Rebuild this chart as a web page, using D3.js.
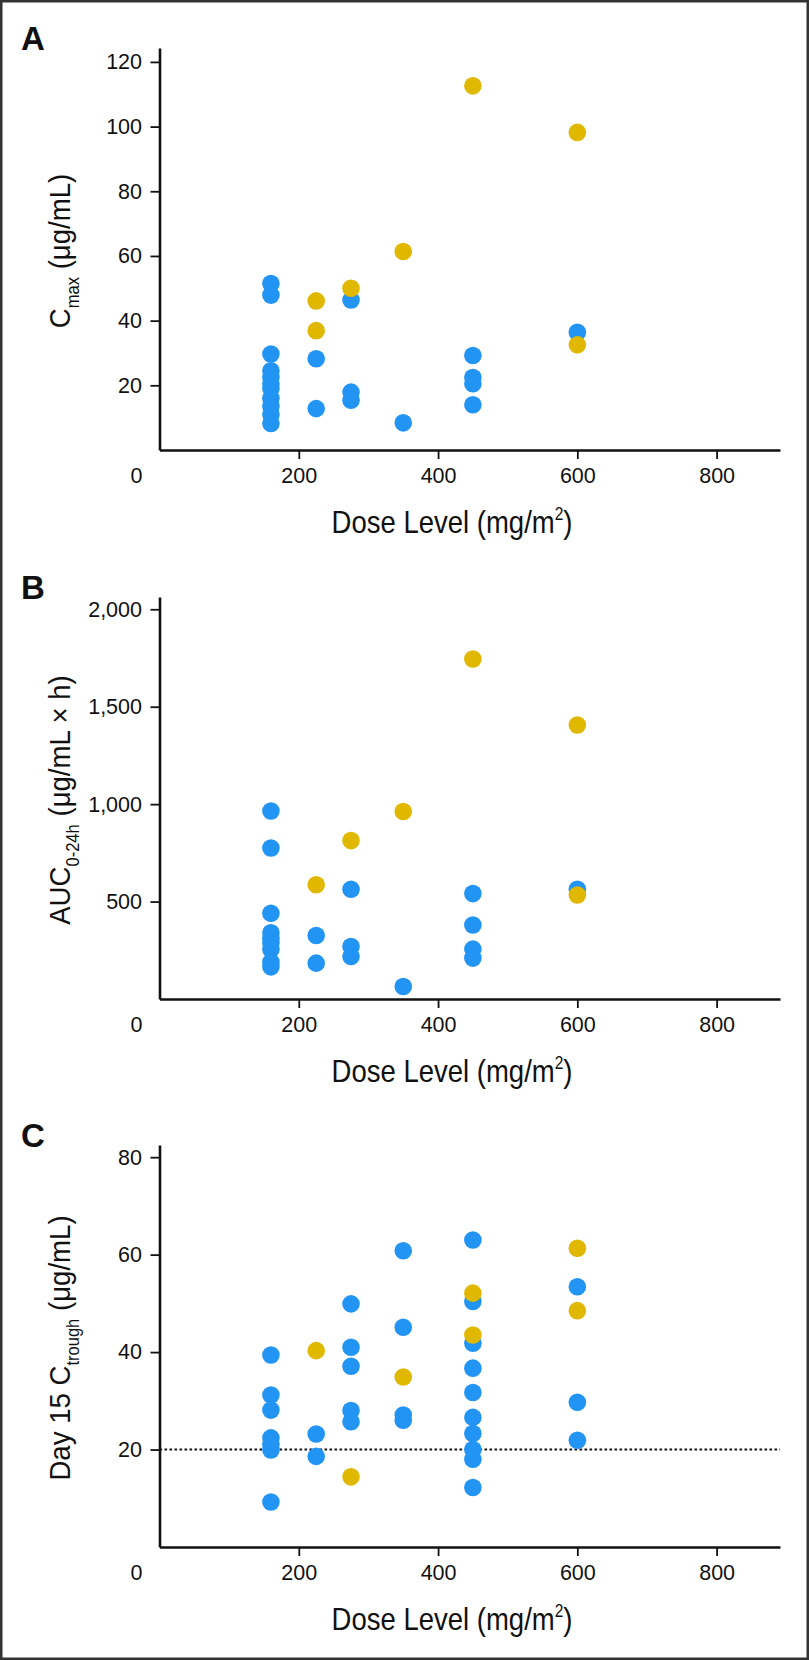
<!DOCTYPE html>
<html>
<head>
<meta charset="utf-8">
<script src="https://cdn.jsdelivr.net/npm/d3@7"></script>
<style>
  body { margin: 0; background: #fff; }
  svg { display: block; }
  .tick text { font-family: "Liberation Sans", Arial, sans-serif; font-size: 21.5px; fill: #111; }
  .ylab { font-family: "Liberation Sans", Arial, sans-serif; font-size: 30px; fill: #111; }
  .xlab { font-family: "Liberation Sans", Arial, sans-serif; font-size: 32px; fill: #111; }
  .letter { font-family: "Liberation Sans", Arial, sans-serif; font-size: 33px; font-weight: bold; fill: #111; }
</style>
</head>
<body>
<svg id="canvas"></svg>
<script>
// dose levels (mg/m2) and measured values, [dose, value]
const xTicks = [0, 200, 400, 600, 800];

const cmaxBlue = [
  [160, 51.5], [160, 47.9], [160, 29.7], [160, 24.5], [160, 22.5], [160, 20.5], [160, 19],
  [160, 16], [160, 13.5], [160, 11], [160, 8.2],
  [225, 28.2], [225, 12.8],
  [275, 46.4], [275, 17.9], [275, 15.4],
  [350, 8.4],
  [450, 29.2], [450, 22.4], [450, 20.5], [450, 14],
  [600, 36.4]
];
const cmaxGold = [[225, 46.1], [225, 36.9], [275, 50], [350, 61.4], [450, 112.6], [600, 98.2], [600, 32.5]];
const cmaxTicks = [20, 40, 60, 80, 100, 120];

const aucBlue = [
  [160, 965], [160, 775], [160, 440], [160, 340], [160, 312], [160, 287], [160, 255], [160, 190], [160, 165],
  [225, 326], [225, 184],
  [275, 563], [275, 269], [275, 218],
  [350, 64],
  [450, 541], [450, 380], [450, 256], [450, 210],
  [600, 563]
];
const aucGold = [[225, 586], [275, 813], [350, 962], [450, 1745], [600, 1406], [600, 534]];
const aucTicks = [500, 1000, 1500, 2000];

const troughBlue = [
  [160, 39.4], [160, 31.2], [160, 28.1], [160, 22.4], [160, 21.1], [160, 19.9], [160, 9.25],
  [225, 23.2], [225, 18.6],
  [275, 49.9], [275, 41], [275, 37.1], [275, 28], [275, 25.7],
  [350, 60.8], [350, 45.1], [350, 27.1], [350, 26],
  [450, 63], [450, 50.4], [450, 41.8], [450, 36.7], [450, 31.7], [450, 26.6], [450, 23.3], [450, 20], [450, 18], [450, 12.2],
  [600, 53.4], [600, 29.7], [600, 21.9]
];
const troughGold = [[225, 40.3], [275, 14.4], [350, 34.9], [450, 52.1], [450, 43.5], [600, 61.3], [600, 48.5]];
const troughTicks = [20, 40, 60, 80];
const troughRef = 20;

const width = 809;
const height = 1660;
const plotH = 402;
const blue = '#2294f3';
const gold = '#e0b800';

let canvas = d3.select('#canvas').attr('width', width).attr('height', height);

canvas.append('rect')
  .attr('x', 1.25).attr('y', 1.25)
  .attr('width', width - 2.5).attr('height', height - 2.5)
  .attr('fill', 'none').attr('stroke', '#333').attr('stroke-width', 2.5);

const xScale = d3.scaleLinear().domain([0, 891]).range([159.5, 780]);

const panels = [
  { letter: 'A', top: 48, ymax: 124.3, ticks: cmaxTicks, fmt: d3.format('d'),
    blue: cmaxBlue, gold: cmaxGold, title: [['C', 0], ['max', 1], [' (\u03bcg/mL)', 0]] },
  { letter: 'B', top: 597, ymax: 2063, ticks: aucTicks, fmt: d3.format(','),
    blue: aucBlue, gold: aucGold, title: [['AUC', 0], ['0-24h', 1], [' (\u03bcg/mL \u00d7 h)', 0]] },
  { letter: 'C', top: 1145, ymax: 82.5, ticks: troughTicks, fmt: d3.format('d'),
    blue: troughBlue, gold: troughGold, title: [['Day 15 C', 0], ['trough', 1], [' (\u03bcg/mL)', 0]], ref: troughRef }
];

const drawPanel = (p) => {
  const bottom = p.top + plotH;
  const yScale = d3.scaleLinear().domain([0, p.ymax]).range([bottom, p.top]);
  const g = canvas.append('g');

  // panel letter
  g.append('text').attr('class', 'letter')
    .attr('x', 21).attr('y', p.top + 2).text(p.letter);

  // y axis
  const yAxis = d3.axisLeft(yScale).tickValues(p.ticks).tickFormat(p.fmt)
    .tickSize(9).tickSizeOuter(0).tickPadding(8.5);
  const ya = g.append('g').attr('transform', 'translate(159.5,0)').call(yAxis);
  ya.select('.domain').attr('stroke', '#111').attr('stroke-width', 2.6);
  ya.selectAll('.tick line').attr('stroke', '#111').attr('stroke-width', 1.8);

  // x axis
  const xAxis = d3.axisBottom(xScale).tickValues(xTicks).tickSize(9).tickSizeOuter(0).tickPadding(9);
  const xa = g.append('g').attr('transform', 'translate(0,' + bottom + ')').call(xAxis);
  xa.select('.domain').attr('stroke', '#111').attr('stroke-width', 2.6);
  xa.selectAll('.tick line').attr('stroke', '#111').attr('stroke-width', 1.8);
  xa.selectAll('.tick').filter(d => d === 0).select('line').remove();
  xa.selectAll('.tick').filter(d => d === 0).select('text').attr('dx', -23.5);

  // reference line
  if (p.ref !== undefined) {
    g.append('line')
      .attr('x1', xScale(0)).attr('x2', xScale.range()[1])
      .attr('y1', yScale(p.ref)).attr('y2', yScale(p.ref))
      .attr('stroke', '#111').attr('stroke-width', 2)
      .attr('stroke-dasharray', '2.6,2.4');
  }

  // points: blue first, gold on top
  g.append('g').selectAll('circle').data(p.blue).enter().append('circle')
    .attr('cx', d => xScale(d[0])).attr('cy', d => yScale(d[1]))
    .attr('r', 8.8).attr('fill', blue);
  g.append('g').selectAll('circle').data(p.gold).enter().append('circle')
    .attr('cx', d => xScale(d[0])).attr('cy', d => yScale(d[1]))
    .attr('r', 8.8).attr('fill', gold);

  // y title
  const yt = g.append('text').attr('class', 'ylab')
    .attr('text-anchor', 'middle')
    .attr('transform', 'translate(70,' + (p.top + 203) + ') rotate(-90) scale(0.92,1)');
  p.title.forEach(([s, sub], i) => {
    const prev = i > 0 ? p.title[i - 1][1] : 0;
    const t = yt.append('tspan').text(s);
    if (sub) t.attr('font-size', '18px').attr('dy', 9);
    else if (prev) t.attr('dy', -9);
  });

  // x title (condensed)
  const xt = g.append('text').attr('class', 'xlab')
    .attr('text-anchor', 'middle')
    .attr('transform', 'translate(452,' + (bottom + 83) + ') scale(0.86,1)');
  xt.append('tspan').text('Dose Level (mg/m');
  xt.append('tspan').text('2').attr('font-size', '18px').attr('dy', -13);
  xt.append('tspan').text(')').attr('dy', 13);
};

panels.forEach(drawPanel);
</script>
</body>
</html>
